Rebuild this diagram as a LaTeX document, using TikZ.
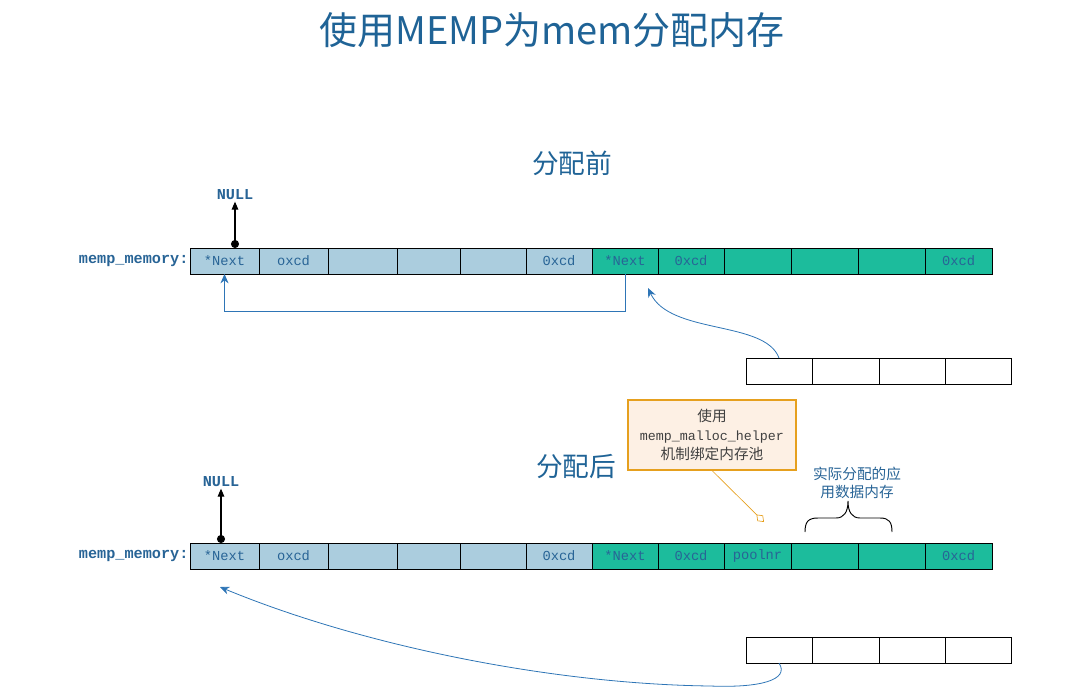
\documentclass[tikz,border=0pt]{standalone}
\usepackage{fontspec}
\setmonofont{Liberation Mono}
\newfontfamily\cjk{Noto Sans CJK SC}
\usepackage{xcolor}
\usetikzlibrary{arrows.meta,positioning}
\definecolor{titleblue}{RGB}{31,99,150}
\definecolor{textblue}{RGB}{40,100,150}
\definecolor{lineblue}{RGB}{46,117,182}
\definecolor{freeblue}{RGB}{171,205,222}
\definecolor{usedgreen}{RGB}{28,188,156}
\definecolor{noteorange}{RGB}{230,160,30}
\definecolor{notefill}{RGB}{253,240,228}
\newdimen\pxu \pxu=0.75pt

\begin{document}
\begin{tikzpicture}[x=0.75pt, y=-0.75pt, node distance=0pt,
    cell/.style={draw, line width=0.7pt, minimum height=26\pxu, inner sep=0pt, outer sep=0pt, text=textblue, font=\ttfamily\fontsize{10.3}{12}\selectfont},
    free/.style={cell, fill=freeblue},
    used/.style={cell, fill=usedgreen},
    spare/.style={cell, fill=white},
    varname/.style={text=textblue, font=\ttfamily\bfseries\fontsize{11.4}{13}\selectfont, inner sep=1pt},
    heading/.style={text=titleblue, font=\cjk\fontsize{20}{24}\selectfont},
    link/.style={draw=lineblue, line width=0.6pt, -{Stealth[length=7pt,width=6pt]}},
    nullarrow/.style={line width=0.8pt, {Circle[length=6pt]}-{Triangle[length=6pt,width=5pt]}}]
  \useasboundingbox (0,0) rectangle (1092,699);

  \node[text=titleblue, font=\cjk\fontsize{28.5}{34}\selectfont] (title) at (552,30) {使用MEMP为mem分配内存};

  % before allocation
  \node[heading] (pre) at (572,163) {分配前};
  \node[free, minimum width=69\pxu] (a1) at (224.5,261) {*Next};
  \node[free, minimum width=69\pxu, right=of a1] (a2) {oxcd};
  \node[free, minimum width=69\pxu, right=of a2] (a3) {};
  \node[free, minimum width=63\pxu, right=of a3] (a4) {};
  \node[free, minimum width=66\pxu, right=of a4] (a5) {};
  \node[free, minimum width=66\pxu, right=of a5] (a6) {0xcd};
  \node[used, minimum width=66\pxu, right=of a6] (a7) {*Next};
  \node[used, minimum width=66\pxu, right=of a7] (a8) {0xcd};
  \node[used, minimum width=67\pxu, right=of a8] (a9) {};
  \node[used, minimum width=67\pxu, right=of a9] (a10) {};
  \node[used, minimum width=67\pxu, right=of a10] (a11) {};
  \node[used, minimum width=67\pxu, right=of a11] (a12) {0xcd};
  \node[varname, anchor=east] (mem1) at (a1.west) {memp\_memory:};
  \node[varname] (null1) at (235,195) {NULL};
  \node[spare, minimum width=66\pxu] (s1) at (779,371) {};
  \node[spare, minimum width=67\pxu, right=of s1] (s2) {};
  \node[spare, minimum width=66\pxu, right=of s2] (s3) {};
  \node[spare, minimum width=66\pxu, right=of s3] (s4) {};
  \coordinate (hit1) at (648,288);
  \draw[nullarrow] (a1.north -| null1) -- (null1.south);
  \draw[link] (a7.south) -- ++(0,37) -| (a1.south);
  \draw[link] (s1.north) .. controls (765,320) and (670,335) .. (hit1);

  % after allocation
  \node[heading] (post) at (576,467) {分配后};
  \node[free, minimum width=69\pxu] (b1) at (224.5,556) {*Next};
  \node[free, minimum width=69\pxu, right=of b1] (b2) {oxcd};
  \node[free, minimum width=69\pxu, right=of b2] (b3) {};
  \node[free, minimum width=63\pxu, right=of b3] (b4) {};
  \node[free, minimum width=66\pxu, right=of b4] (b5) {};
  \node[free, minimum width=66\pxu, right=of b5] (b6) {0xcd};
  \node[used, minimum width=66\pxu, right=of b6] (b7) {*Next};
  \node[used, minimum width=66\pxu, right=of b7] (b8) {0xcd};
  \node[used, minimum width=67\pxu, right=of b8] (b9) {poolnr};
  \node[used, minimum width=67\pxu, right=of b9] (b10) {};
  \node[used, minimum width=67\pxu, right=of b10] (b11) {};
  \node[used, minimum width=67\pxu, right=of b11] (b12) {0xcd};
  \node[varname, anchor=east] (mem2) at (b1.west) {memp\_memory:};
  \node[varname] (null2) at (221,482) {NULL};
  \node[spare, minimum width=66\pxu] (t1) at (779,650) {};
  \node[spare, minimum width=67\pxu, right=of t1] (t2) {};
  \node[spare, minimum width=66\pxu, right=of t2] (t3) {};
  \node[spare, minimum width=66\pxu, right=of t3] (t4) {};
  \node[draw=noteorange, fill=notefill, line width=0.8pt, minimum width=168\pxu, minimum height=70\pxu, align=center, text=black!75, font=\cjk\fontsize{11}{14}\selectfont] (note) at (712,435) {使用\\{\ttfamily\fontsize{10}{14}\selectfont memp\_malloc\_helper}\\机制绑定内存池};
  \node[text=textblue, align=center, font=\cjk\fontsize{11}{13.5}\selectfont] (data) at (857,483) {实际分配的应\\用数据内存};
  \coordinate (notetip) at (764,522);
  \coordinate (hit2) at (220,587);
  \draw[nullarrow] (b1.north -| null2) -- (null2.south);
  \draw[noteorange, line width=0.5pt, -{Diamond[open, length=8pt, width=6pt]}] (note.south) -- (notetip);
  \draw[line width=0.7pt] (805,532) .. controls (805,522) and (808,518) .. (818,518) -- (836,518) .. controls (844,518) and (848,512) .. (848,501) .. controls (848,512) and (852,518) .. (860,518) -- (880,518) .. controls (889,518) and (892,522) .. (892,532);
  \draw[link] (t1.south) .. controls (790,680) and (760,688) .. (710,686) .. controls (550,684) and (360,645) .. (hit2);
\end{tikzpicture}
\end{document}
